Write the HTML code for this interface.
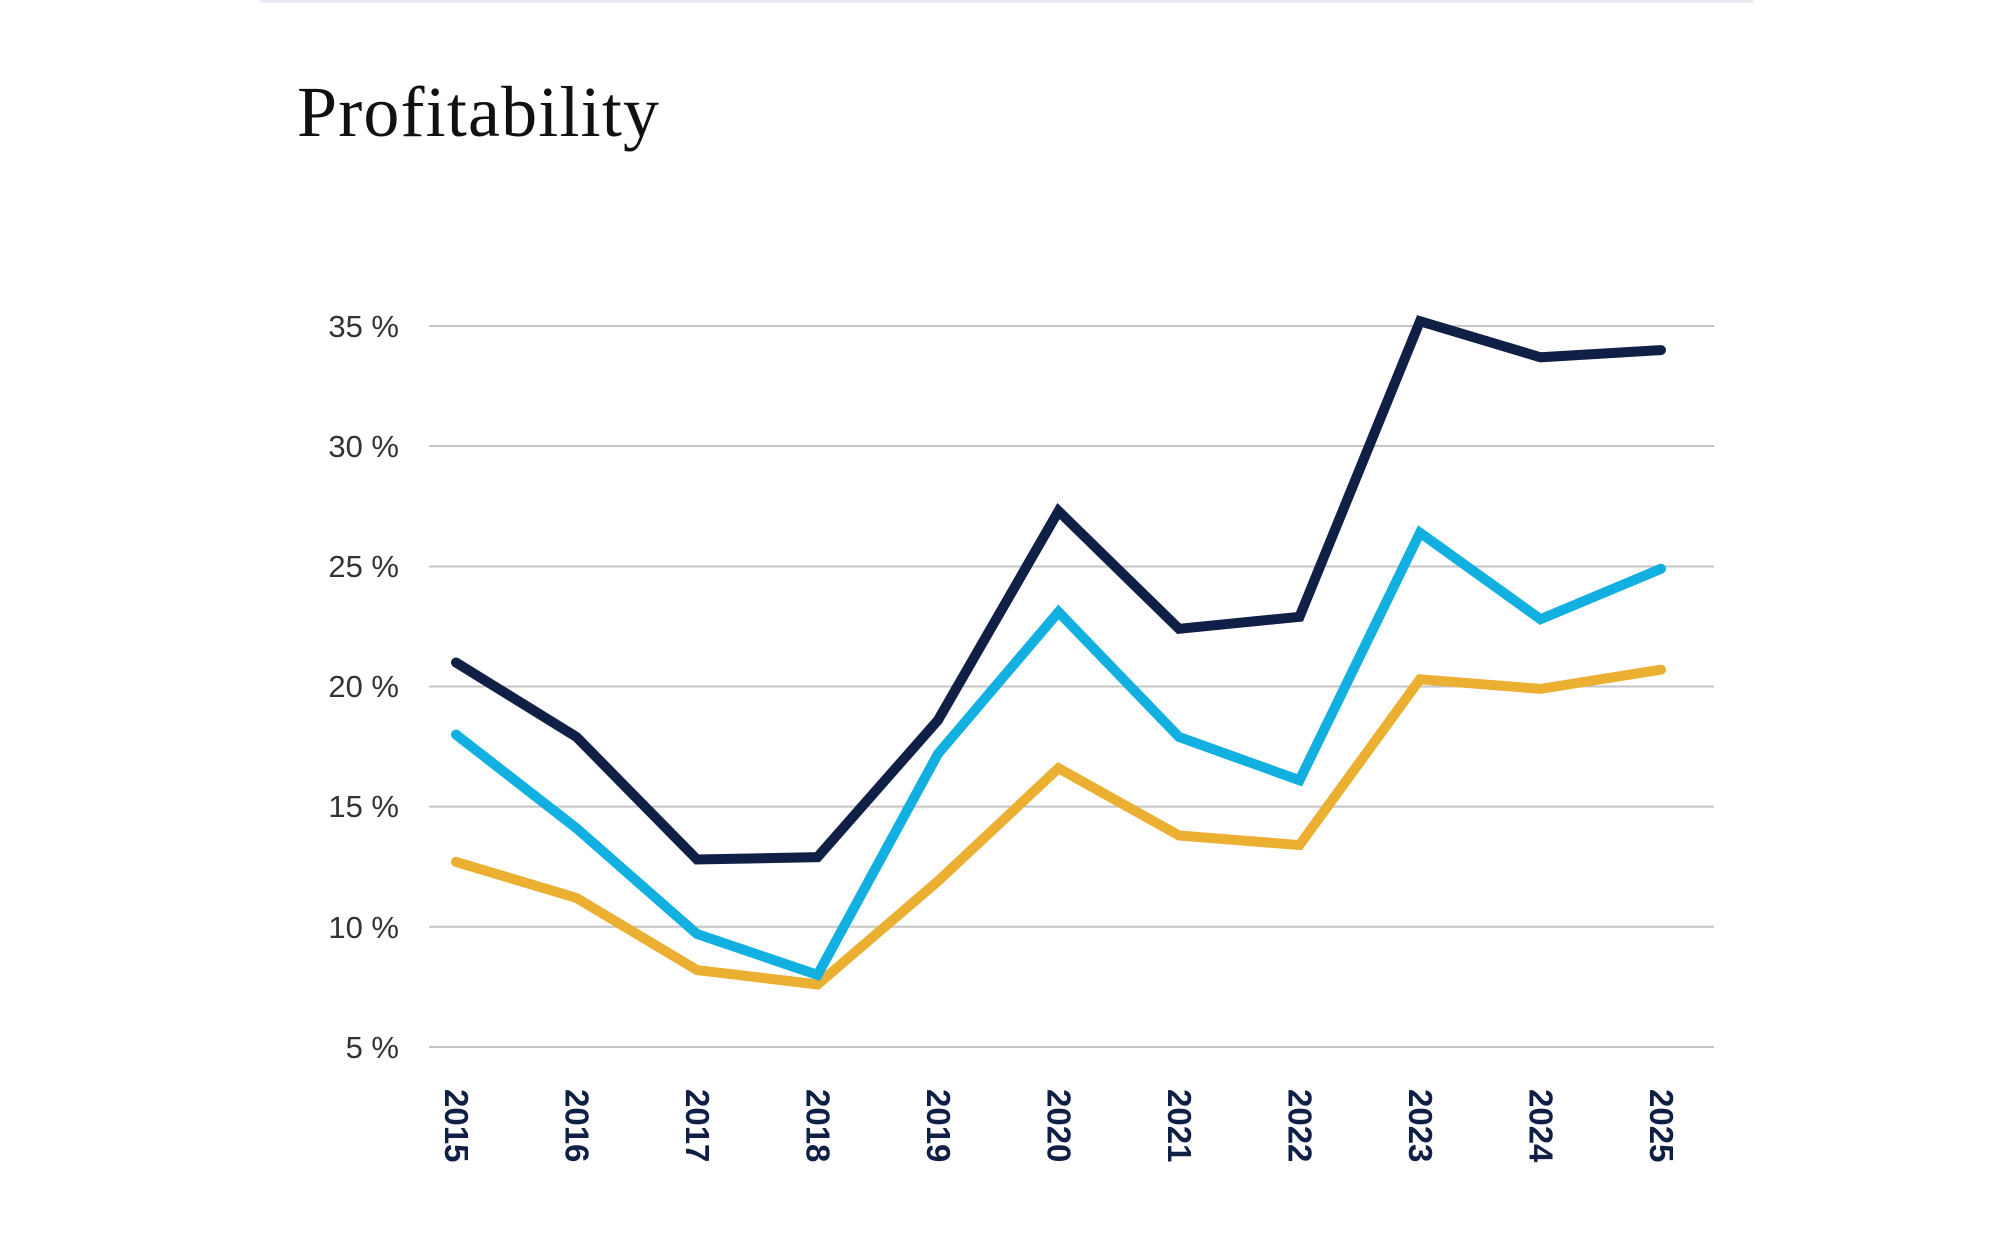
<!DOCTYPE html>
<html><head><style>
body{margin:0;background:#fff;width:2001px;height:1251px;overflow:hidden}
</style></head><body>
<svg width="2001" height="1251" xmlns="http://www.w3.org/2000/svg">
<rect x="260" y="0" width="1494" height="3" fill="#e8eef4"/>
<text x="297" y="136" font-family="Liberation Serif, serif" font-size="72" fill="#111" textLength="362">Profitability</text>
<g stroke="#c4c4c4" stroke-width="2">
<line x1="429" x2="1714" y1="326" y2="326"/>
<line x1="429" x2="1714" y1="446" y2="446"/>
<line x1="429" x2="1714" y1="566.5" y2="566.5"/>
<line x1="429" x2="1714" y1="686.5" y2="686.5"/>
<line x1="429" x2="1714" y1="806.6" y2="806.6"/>
<line x1="429" x2="1714" y1="926.8" y2="926.8"/>
<line x1="429" x2="1714" y1="1047" y2="1047"/>
</g>
<g font-family="Liberation Sans, sans-serif" font-size="31" fill="#333" text-anchor="end">
<text x="399" y="337">35 %</text>
<text x="399" y="457">30 %</text>
<text x="399" y="577">25 %</text>
<text x="399" y="697">20 %</text>
<text x="399" y="817">15 %</text>
<text x="399" y="938">10 %</text>
<text x="399" y="1058">5 %</text>
</g>
<g font-family="Liberation Sans, sans-serif" font-size="33" font-weight="bold" fill="#0f1f45">
<text transform="translate(445,1089) rotate(90)">2015</text>
<text transform="translate(565.5,1089) rotate(90)">2016</text>
<text transform="translate(686,1089) rotate(90)">2017</text>
<text transform="translate(806.5,1089) rotate(90)">2018</text>
<text transform="translate(927,1089) rotate(90)">2019</text>
<text transform="translate(1047.5,1089) rotate(90)">2020</text>
<text transform="translate(1168,1089) rotate(90)">2021</text>
<text transform="translate(1288.5,1089) rotate(90)">2022</text>
<text transform="translate(1409,1089) rotate(90)">2023</text>
<text transform="translate(1529.5,1089) rotate(90)">2024</text>
<text transform="translate(1650,1089) rotate(90)">2025</text>
</g>
<g transform="translate(456,1167.1) scale(120.5,-24.03)" fill="none" stroke-width="10" stroke-linejoin="miter" stroke-linecap="round">
<polyline vector-effect="non-scaling-stroke" stroke="#ebb031" points="0,12.7 1,11.2 2,8.2 3,7.6 4,11.9 5,16.6 6,13.8 7,13.4 8,20.3 9,19.9 10,20.7"/>
<polyline vector-effect="non-scaling-stroke" stroke="#12b0e0" points="0,18 1,14.1 2,9.7 3,8 4,17.2 5,23.1 6,17.9 7,16.1 8,26.4 9,22.8 10,24.9"/>
<polyline vector-effect="non-scaling-stroke" stroke="#0f1f45" points="0,21 1,17.9 2,12.8 3,12.9 4,18.6 5,27.3 6,22.4 7,22.9 8,35.2 9,33.7 10,34"/>
</g>
</svg>
</body></html>
